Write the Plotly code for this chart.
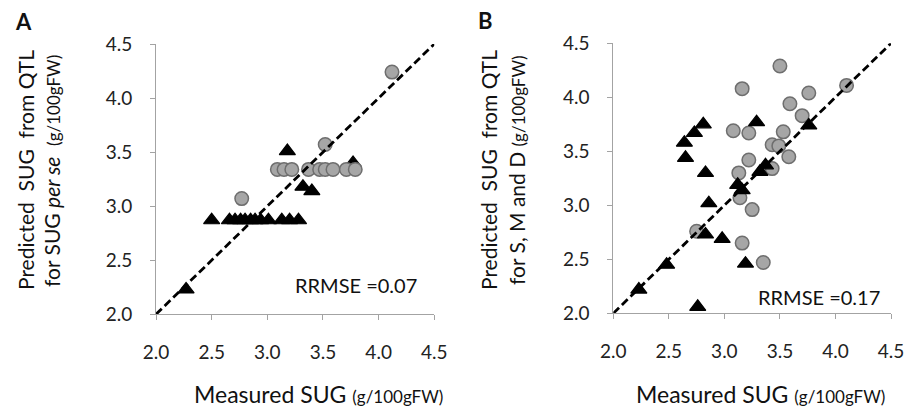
import plotly.graph_objects as go

# ---------------- data ----------------
# Panel A: QTL for SUG per se
a_circ_x = [4.12, 3.52, 2.77, 3.09, 3.15, 3.22, 3.37, 3.47, 3.52, 3.59, 3.71, 3.79]
a_circ_y = [4.24, 3.57, 3.07, 3.34, 3.34, 3.34, 3.34, 3.34, 3.34, 3.34, 3.34, 3.34]
a_tri_x = [2.27, 3.18, 3.77, 3.32, 3.40, 2.50, 2.66, 2.71, 2.76, 2.80, 2.85, 2.89,
           2.94, 3.01, 3.13, 3.20, 3.28]
a_tri_y = [2.23, 3.51, 3.40, 3.18, 3.14, 2.87, 2.87, 2.87, 2.87, 2.87, 2.87, 2.87,
           2.87, 2.87, 2.87, 2.87, 2.87]

# Panel B: QTL for S, M and D
b_circ_x = [3.50, 3.16, 4.10, 3.76, 3.59, 3.70, 3.08, 3.22, 3.53, 3.43, 3.49, 3.58,
            3.22, 3.43, 3.13, 3.14, 3.25, 2.75, 3.16, 3.35]
b_circ_y = [4.29, 4.08, 4.11, 4.04, 3.94, 3.83, 3.69, 3.67, 3.68, 3.56, 3.55, 3.45,
            3.42, 3.34, 3.30, 3.07, 2.96, 2.76, 2.65, 2.47]
b_tri_x = [2.23, 2.48, 2.76, 3.19, 2.83, 2.98, 2.86, 2.83, 2.65, 2.64, 2.73, 2.81,
           3.29, 3.76, 3.37, 3.32, 3.12, 3.16]
b_tri_y = [2.22, 2.45, 2.06, 2.46, 2.73, 2.69, 3.02, 3.30, 3.44, 3.58, 3.67, 3.75,
           3.77, 3.74, 3.37, 3.31, 3.19, 3.14]

one_to_one = [2.0, 4.5]
tick_vals = [2.0, 2.5, 3.0, 3.5, 4.0, 4.5]
tick_text = ["2.0", "2.5", "3.0", "3.5", "4.0", "4.5"]
rrmse_a = "RRMSE =0.07"
rrmse_b = "RRMSE =0.17"

# ---------------- style ----------------
W, H = 907, 412
FONT = "Lato"
circ_marker = dict(symbol="circle", size=13.5, color="#a6a6a6",
                   line=dict(color="#6e6e6e", width=1.5))
tri_marker = dict(symbol="triangle-up", size=14, color="#000000",
                  line=dict(color="#000000", width=1.2))
line_style = dict(color="#000000", width=2.8, dash="8px,4px")


def px(x):
    return x / W


def py(y):
    return 1 - y / H


fig = go.Figure()

# Panel A (triangles under circles)
fig.add_trace(go.Scatter(x=a_tri_x, y=a_tri_y, mode="markers", marker=tri_marker,
                         xaxis="x", yaxis="y", cliponaxis=False, showlegend=False))
fig.add_trace(go.Scatter(x=a_circ_x, y=a_circ_y, mode="markers", marker=circ_marker,
                         xaxis="x", yaxis="y", cliponaxis=False, showlegend=False))
fig.add_trace(go.Scatter(x=one_to_one, y=one_to_one, mode="lines", line=line_style,
                         xaxis="x", yaxis="y", cliponaxis=False, showlegend=False))

# Panel B (triangles over circles)
fig.add_trace(go.Scatter(x=b_circ_x, y=b_circ_y, mode="markers", marker=circ_marker,
                         xaxis="x2", yaxis="y2", cliponaxis=False, showlegend=False))
fig.add_trace(go.Scatter(x=b_tri_x, y=b_tri_y, mode="markers", marker=tri_marker,
                         xaxis="x2", yaxis="y2", cliponaxis=False, showlegend=False))
fig.add_trace(go.Scatter(x=one_to_one, y=one_to_one, mode="lines", line=line_style,
                         xaxis="x2", yaxis="y2", cliponaxis=False, showlegend=False))

axis_common = dict(range=[2.0, 4.5], tickvals=tick_vals, ticktext=tick_text,
                   showgrid=False, zeroline=False, showline=True,
                   linecolor="#a3a3a3", linewidth=1, ticks="outside",
                   tickcolor="#a3a3a3", ticklen=5, tickwidth=1,
                   tickfont=dict(family=FONT, size=19, color="#222222"),
                   fixedrange=True)

fig.update_layout(
    width=W, height=H,
    margin=dict(l=0, r=0, t=0, b=0, autoexpand=False),
    paper_bgcolor="white", plot_bgcolor="white",
    xaxis=dict(domain=[px(156), px(434.3)], anchor="y", ticklabelstandoff=16,
               **axis_common),
    yaxis=dict(domain=[py(314.3), py(44)], anchor="x", ticklabelstandoff=14,
               **axis_common),
    xaxis2=dict(domain=[px(613.3), px(891)], anchor="y2", ticklabelstandoff=16,
                **axis_common),
    yaxis2=dict(domain=[py(313.3), py(43.3)], anchor="x2", ticklabelstandoff=14,
                **axis_common),
)

small = "<span style='font-size:17px'>(g/100gFW)</span>"


def ann(x, y, text, size=19, angle=0, bold=False):
    t = f"<b>{text}</b>" if bold else text
    fig.add_annotation(x=px(x), y=py(y), xref="paper", yref="paper", text=t,
                       showarrow=False, xanchor="center", yanchor="middle",
                       textangle=angle,
                       font=dict(family=FONT, size=size, color="#111111"))


# panel letters
ann(23, 22, "A", size=22, bold=True)
ann(485, 21, "B", size=22, bold=True)

# x titles
ann(318, 394, "Measured SUG " + small, size=23)
ann(760, 394, "Measured SUG " + small, size=23)

# y titles
ann(25, 170, "Predicted\u00a0 SUG\u00a0 from QTL", size=21, angle=-90)
ann(52, 171, "for SUG <i>per se</i>\u00a0 " + small, size=21, angle=-90)
ann(488, 170, "Predicted\u00a0 SUG\u00a0 from QTL", size=21, angle=-90)
ann(516, 170, "for S, M and D " + small, size=21, angle=-90)

# RRMSE labels
ann(355.5, 285, rrmse_a, size=20)
ann(819, 296.7, rrmse_b, size=20)

fig.write_html(
    "out.html",
    config={"displayModeBar": False},
    post_script="document.body.style.margin='0';document.body.style.padding='0';"
                "document.documentElement.style.overflow='hidden';",
)
